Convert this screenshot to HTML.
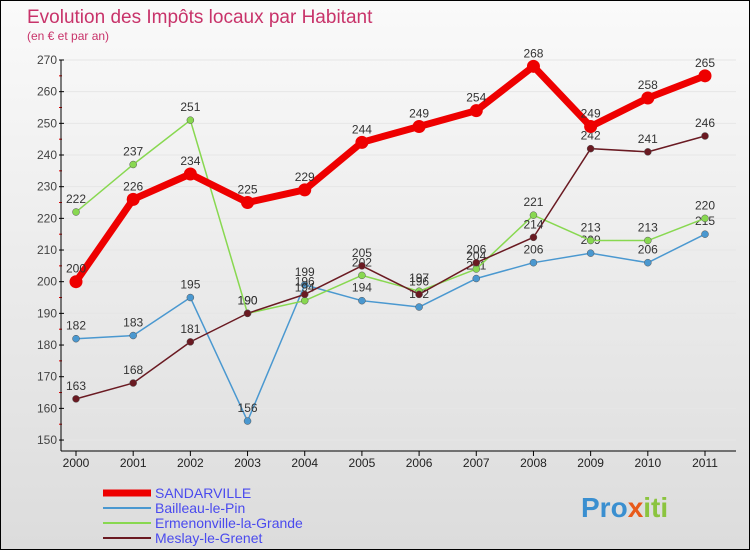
<!DOCTYPE html>
<html><head><meta charset="utf-8"><style>
body{margin:0;width:750px;height:550px;overflow:hidden;font-family:"Liberation Sans",sans-serif}
#wrap{position:absolute;left:0;top:0;width:748px;height:548px;border:1px solid #000;background:linear-gradient(#fafafa,#dcdcdc)}
</style></head><body>
<div id="wrap">
<svg id="c" width="748" height="548" xmlns="http://www.w3.org/2000/svg">
<text x="26" y="22" font-size="19" fill="#c8336a">Evolution des Impôts locaux par Habitant</text>
<text x="26" y="39" font-size="12" fill="#c8336a">(en € et par an)</text>
<g id="grid"></g><g id="axes"></g><g id="series"></g><g id="legend"></g>
<text x="580" y="516" font-size="28" font-weight="bold" fill="#3a8fd0">Pro<tspan fill="#e85a1a">x</tspan><tspan fill="#8bc43f">iti</tspan></text>
</svg></div>
<script>
const years=[2000,2001,2002,2003,2004,2005,2006,2007,2008,2009,2010,2011];
const yTicks=[150,160,170,180,190,200,210,220,230,240,250,260,270];
const sandarville=[200,226,234,225,229,244,249,254,268,249,258,265];
const bailleau=[182,183,195,156,199,194,192,201,206,209,206,215];
const ermenonville=[222,237,251,190,194,202,197,204,221,213,213,220];
const meslay=[163,168,181,190,196,205,196,206,214,242,241,246];
const NS="http://www.w3.org/2000/svg";
const X=i=>75+i*(629/11);
const Y=v=>59+(270-v)*3.167;
function mk(p,t,a){const e=document.createElementNS(NS,t);for(const k in a)e.setAttribute(k,a[k]);p.appendChild(e);return e;}
const grid=document.getElementById('grid'),axes=document.getElementById('axes'),ser=document.getElementById('series'),leg=document.getElementById('legend');
yTicks.forEach(v=>{
 const l=mk(grid,'line',{x1:60,x2:735,y1:Y(v),y2:Y(v),stroke:'#e6e6e6'});
 
 
 const t=mk(axes,'text',{x:56,y:Y(v)+4,'font-size':12,fill:'#444','text-anchor':'end'});t.textContent=v;
 
 
 mk(axes,'line',{x1:58,x2:63,y1:Y(v),y2:Y(v),stroke:'#000'});
 if(v<270)mk(axes,'line',{x1:58,x2:61,y1:Y(v+5),y2:Y(v+5),stroke:'#d00'});
});
mk(axes,'line',{x1:60,x2:60,y1:Y(270),y2:450,stroke:'#000'});
mk(axes,'line',{x1:60,x2:735,y1:450,y2:450,stroke:'#000'});
years.forEach((yr,i)=>{
 mk(axes,'line',{x1:X(i),x2:X(i),y1:450,y2:455,stroke:'#000'});
 const t=mk(axes,'text',{x:X(i),y:466,'font-size':12,fill:'#222','text-anchor':'middle'});t.textContent=yr;
 
 
});
function draw(data,color,w,r,name){
 const g=mk(ser,'g',{});
 
 
 mk(g,'polyline',{points:data.map((v,i)=>X(i)+','+Y(v)).join(' '),fill:'none',stroke:color,'stroke-width':w,'stroke-linejoin':'round'});
 data.forEach((v,i)=>{
  const c=mk(g,'circle',{cx:X(i),cy:Y(v),r:r,fill:color,stroke:w>3?'none':'#555','stroke-width':0.5});
  
  
  const t=mk(g,'text',{x:X(i),y:Y(v)-9,'font-size':12,fill:'#333','text-anchor':'middle'});t.textContent=v;
 });
}
draw(bailleau,'#4a98d0',1.5,3.5,'bailleau');
draw(ermenonville,'#88d850',1.5,3.5,'ermenonville');
draw(meslay,'#6a1a22',1.5,3.5,'meslay');
draw(sandarville,'#ee0000',7,6.5,'sandarville');
const names=['SANDARVILLE','Bailleau-le-Pin','Ermenonville-la-Grande','Meslay-le-Grenet'];
const colors=['#ee0000','#4a98d0','#88d850','#6a1a22'];
const widths=[7,2,2,2];
names.forEach((n,i)=>{
 const yy=492+i*15;
 const g=mk(leg,'g',{});
 
 
 mk(g,'line',{x1:102,x2:150,y1:yy,y2:yy,stroke:colors[i],'stroke-width':widths[i]});
 const t=mk(g,'text',{x:154,y:yy+5,'font-size':14,fill:'#4a4aee'});t.textContent=n;
});
</script>
</body></html>
